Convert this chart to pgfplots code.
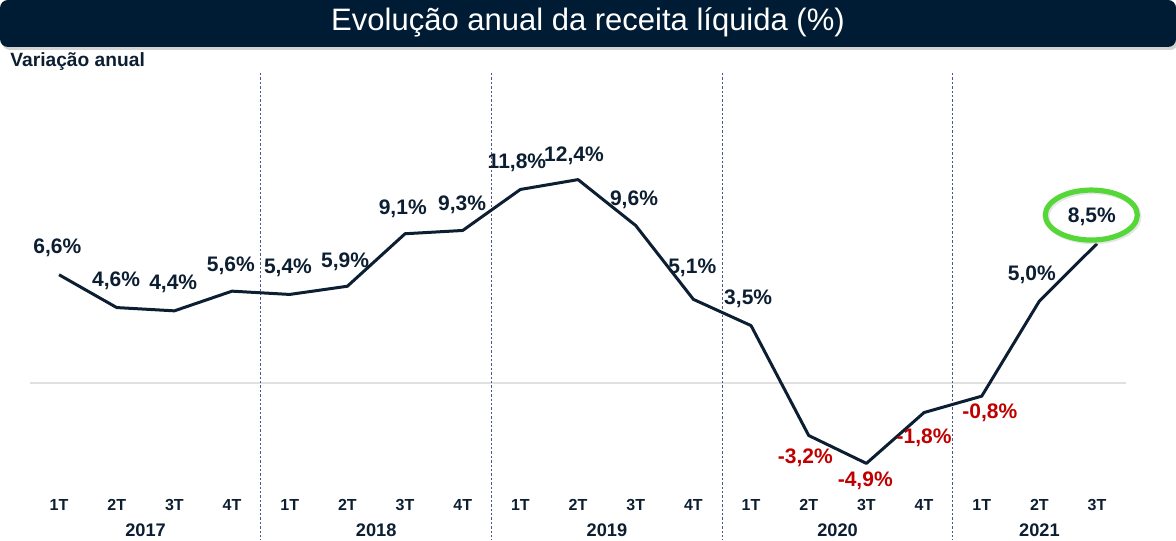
\documentclass[border=0pt]{standalone}
\usepackage{pgfplots}
\pgfplotsset{compat=1.18}
\usepackage{fontspec}
\setmainfont{Liberation Sans}
\usetikzlibrary{shadows}
\definecolor{navy}{RGB}{12,30,50}
\definecolor{bar}{RGB}{0,28,52}
\definecolor{negred}{RGB}{192,0,0}
\definecolor{sep}{RGB}{70,90,140}
\definecolor{ring}{RGB}{85,215,55}
\pgfplotstableread{
x y
0 6.6
1 4.6
2 4.4
3 5.6
4 5.4
5 5.9
6 9.1
7 9.3
8 11.8
9 12.4
10 9.6
11 5.1
12 3.5
13 -3.2
14 -4.9
15 -1.8
16 -0.8
17 5.0
18 8.5
}\datatable
\tikzset{lab/.style={font=\fontsize{10.5}{12}\selectfont\bfseries, text=navy},
         nlab/.style={font=\fontsize{10.5}{12}\selectfont\bfseries, text=negred}}
\begin{document}
\begin{tikzpicture}
% title bar
\fill[bar, rounded corners=4pt, drop shadow={shadow xshift=1pt, shadow yshift=-1.5pt, opacity=0.35}] (0pt,246.5pt) rectangle (588pt,270pt);
\node[text=white, font=\fontsize{15.5}{18}\selectfont] at (294pt,259pt) {Evolução anual da receita líquida (\%)};
\node[anchor=west, inner sep=0pt, text=navy, font=\fontsize{9.6}{11}\selectfont\bfseries] at (5pt,239pt) {Variação anual};
\begin{axis}[
  at={(15.1pt,0pt)}, anchor=south west,
  scale only axis, width=547.85pt, height=233.5pt,
  xmin=-0.5, xmax=18.5, ymin=-9.57, ymax=18.9,
  axis line style={draw=none}, xtick=\empty, ytick=\empty,
  clip=false,
]
\draw[black!12, line width=0.75pt] (axis cs:-0.5,0) -- (axis cs:18.5,0);
\draw[sep, line width=0.5pt, dash pattern=on 1.2pt off 1pt] (axis cs:3.5,18.9) -- (axis cs:3.5,-9.57);
\draw[sep, line width=0.5pt, dash pattern=on 1.2pt off 1pt] (axis cs:7.5,18.9) -- (axis cs:7.5,-9.57);
\draw[sep, line width=0.5pt, dash pattern=on 1.2pt off 1pt] (axis cs:11.5,18.9) -- (axis cs:11.5,-9.57);
\draw[sep, line width=0.5pt, dash pattern=on 1.2pt off 1pt] (axis cs:15.5,18.9) -- (axis cs:15.5,-9.57);
\addplot[navy, line width=1.5pt, line join=round, mark=none] table[x=x,y=y] {\datatable};
% data labels
\node[lab] at (axis cs:-0.03,8.23) {6,6\%};
\node[lab] at (axis cs:0.99,6.22) {4,6\%};
\node[lab] at (axis cs:1.98,6.04) {4,4\%};
\node[lab] at (axis cs:2.98,7.13) {5,6\%};
\node[lab] at (axis cs:3.97,7.01) {5,4\%};
\node[lab] at (axis cs:4.96,7.38) {5,9\%};
\node[lab] at (axis cs:5.96,10.61) {9,1\%};
\node[lab] at (axis cs:6.99,10.85) {9,3\%};
\node[lab] at (axis cs:7.94,13.41) {11,8\%};
\node[lab] at (axis cs:8.93,13.84) {12,4\%};
\node[lab] at (axis cs:9.97,11.16) {9,6\%};
\node[lab] at (axis cs:10.98,7.01) {5,1\%};
\node[lab] at (axis cs:11.95,5.12) {3,5\%};
\node[nlab] at (axis cs:12.94,-4.57) {-3,2\%};
\node[nlab] at (axis cs:13.98,-5.98) {-4,9\%};
\node[nlab] at (axis cs:15.0,-3.35) {-1,8\%};
\node[nlab] at (axis cs:16.14,-1.83) {-0,8\%};
\node[lab] at (axis cs:16.87,6.59) {5,0\%};
\node[lab] at (axis cs:17.91,10.12) {8,5\%};
\draw[black!20, line width=2.6pt, opacity=0.5] ([xshift=0.8pt,yshift=-0.8pt]axis cs:17.9,10.24) ellipse [x radius=23pt, y radius=12.5pt];
\draw[ring, line width=2.6pt] (axis cs:17.9,10.24) ellipse [x radius=23pt, y radius=12.5pt];
% tick labels
\foreach \i/\t in {0/1T,1/2T,2/3T,3/4T,4/1T,5/2T,6/3T,7/4T,8/1T,9/2T,10/3T,11/4T,12/1T,13/2T,14/3T,15/4T,16/1T,17/2T,18/3T}{
  \edef\temp{\noexpand\node[text=navy, font=\noexpand\fontsize{8}{9}\noexpand\selectfont\noexpand\bfseries] at (axis cs:\i,-7.44) {\t};}
  \temp
}
\foreach \i/\t in {1.5/2017,5.5/2018,9.5/2019,13.5/2020,17/2021}{
  \edef\temp{\noexpand\node[text=navy, font=\noexpand\fontsize{9.1}{10}\noexpand\selectfont\noexpand\bfseries] at (axis cs:\i,-8.96) {\t};}
  \temp
}
\end{axis}
\pgfresetboundingbox
\path (0pt,0pt) rectangle (588pt,270pt);
\end{tikzpicture}
\end{document}
